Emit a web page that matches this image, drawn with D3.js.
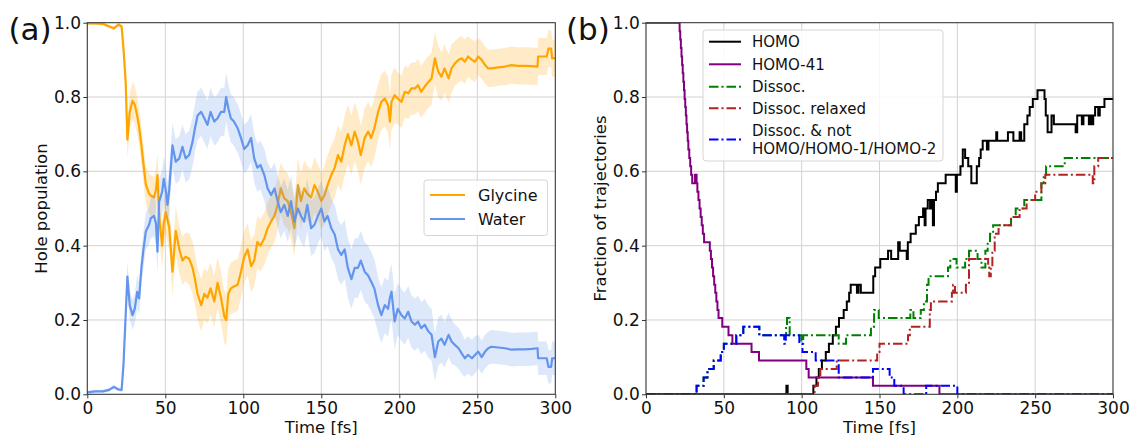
<!DOCTYPE html>
<html>
<head>
<meta charset="utf-8">
<script src="https://cdn.jsdelivr.net/npm/d3@7"></script>
<style>
  body { margin: 0; background: #fff; }
  svg text { font-family: "DejaVu Sans", sans-serif; }
</style>
</head>
<body>
<svg id="chart" width="1130" height="435"></svg>
<script>
// ---------- Panel (a): hole population on glycine vs water ----------
const timeA = [
  0, 5, 10, 14, 17, 20, 22, 23.2, 24.6, 25.7,
  27.2, 29, 30.4, 32, 33.2, 34.7, 36, 37.5, 39.6, 40.7,
  42.8, 44, 45, 46, 48, 49, 50.3, 51.4, 52.5, 54.6,
  56.7, 59, 61, 63, 65.3, 67.5, 69, 70.7, 73, 75,
  77, 79, 81.4, 83.5, 85.7, 87.8, 89, 90.4, 92, 94,
  96.4, 98.5, 100.6, 102.8, 105, 107, 109, 111, 113.5, 115.6,
  117.8, 120, 122, 124, 126.3, 128.5, 130.6, 132.8, 135, 137,
  139, 141, 143.5, 145.6, 147.8, 150,
  152, 154, 156.4, 158.6, 160.7, 162.8, 165, 167, 169.3, 171.4,
  173.5, 175.3, 177.8, 180, 182, 184, 186.4, 188.5, 190.7, 192.8,
  194, 195, 197, 199, 201.4, 203.5, 205.7, 207.8, 210, 212,
  214, 216.3, 218.5, 220.7, 222.8, 225, 227, 229, 231.6, 233.5,
  235.6, 238, 240, 242, 244, 246.6, 248.5, 250.6, 252.8, 255,
  257, 259, 263.5, 267.8, 272, 276, 280.6, 285, 288.6, 289,
  294.5, 295.6, 297.3, 298, 300
];

const glycine = [
  0.998, 0.998, 0.997, 0.99, 0.985, 0.995, 0.99, 0.93, 0.84, 0.685,
  0.76, 0.79, 0.78, 0.75, 0.72, 0.67, 0.62, 0.565, 0.54, 0.535,
  0.53, 0.55, 0.59, 0.48, 0.40, 0.46, 0.49, 0.47, 0.45, 0.33,
  0.44, 0.39, 0.36, 0.37, 0.365, 0.34, 0.31, 0.27, 0.24, 0.27,
  0.26, 0.285, 0.25, 0.30, 0.26, 0.21, 0.20, 0.27, 0.285, 0.29,
  0.295, 0.33, 0.37, 0.39, 0.345, 0.36, 0.41, 0.40, 0.42, 0.447,
  0.465, 0.48, 0.51, 0.554, 0.527, 0.52, 0.49, 0.447, 0.563, 0.52,
  0.554, 0.54, 0.53, 0.563, 0.545, 0.52,
  0.536, 0.563, 0.59, 0.61, 0.644, 0.626, 0.67, 0.70, 0.67, 0.707,
  0.68, 0.644, 0.69, 0.707, 0.69, 0.716, 0.76, 0.787, 0.796, 0.778,
  0.734, 0.787, 0.805, 0.796, 0.787, 0.814, 0.81, 0.823, 0.823, 0.832,
  0.814, 0.828, 0.84, 0.85, 0.904, 0.868, 0.855, 0.877, 0.85, 0.877,
  0.89, 0.90, 0.904, 0.895, 0.909, 0.90, 0.895, 0.909, 0.90, 0.886,
  0.877, 0.877, 0.88, 0.882, 0.886, 0.884, 0.884, 0.883, 0.882, 0.909,
  0.909, 0.93, 0.93, 0.904, 0.905
];

const glycineErr = [
  0.004, 0.004, 0.004, 0.005, 0.006, 0.005, 0.006, 0.03, 0.04, 0.05,
  0.05, 0.05, 0.05, 0.05, 0.05, 0.05, 0.05, 0.05, 0.055, 0.055,
  0.055, 0.06, 0.06, 0.06, 0.06, 0.06, 0.06, 0.06, 0.06, 0.065,
  0.065, 0.065, 0.065, 0.065, 0.07, 0.07, 0.07, 0.07, 0.07, 0.07,
  0.07, 0.07, 0.07, 0.07, 0.07, 0.07, 0.07, 0.07, 0.07, 0.07,
  0.07, 0.07, 0.07, 0.07, 0.07, 0.07, 0.07, 0.07, 0.07, 0.07,
  0.07, 0.07, 0.07, 0.07, 0.075, 0.075, 0.075, 0.075, 0.075, 0.075,
  0.075, 0.075, 0.075, 0.075, 0.075, 0.075,
  0.08, 0.08, 0.08, 0.08, 0.08, 0.08, 0.08, 0.08, 0.08, 0.08,
  0.08, 0.08, 0.08, 0.08, 0.08, 0.08, 0.075, 0.075, 0.075, 0.075,
  0.075, 0.075, 0.075, 0.07, 0.07, 0.07, 0.07, 0.07, 0.07, 0.07,
  0.07, 0.07, 0.07, 0.07, 0.07, 0.07, 0.065, 0.065, 0.065, 0.065,
  0.06, 0.06, 0.06, 0.06, 0.055, 0.055, 0.055, 0.05, 0.05, 0.05,
  0.05, 0.05, 0.05, 0.05, 0.05, 0.05, 0.05, 0.05, 0.05, 0.05,
  0.05, 0.05, 0.05, 0.05, 0.05
];

const water = [
  0.005, 0.008, 0.008, 0.012, 0.02, 0.013, 0.012, 0.08, 0.213, 0.317,
  0.24, 0.213, 0.23, 0.276, 0.258, 0.34, 0.39, 0.438, 0.456, 0.474,
  0.48, 0.46, 0.384, 0.518, 0.545, 0.58, 0.55, 0.51, 0.55, 0.67,
  0.626, 0.635, 0.666, 0.635, 0.644, 0.68, 0.716, 0.75, 0.76, 0.743,
  0.725, 0.76, 0.734, 0.743, 0.76, 0.76, 0.80, 0.77, 0.743, 0.734,
  0.716, 0.69, 0.66, 0.67, 0.69, 0.635, 0.61, 0.617, 0.59, 0.554,
  0.536, 0.554, 0.52, 0.49, 0.51, 0.48, 0.52, 0.465, 0.50, 0.48,
  0.465, 0.51, 0.447, 0.456, 0.48, 0.50,
  0.465, 0.48, 0.447, 0.43, 0.39, 0.375, 0.39, 0.34, 0.31, 0.34,
  0.34, 0.36, 0.33, 0.32, 0.303, 0.285, 0.24, 0.213, 0.24, 0.23,
  0.26, 0.276, 0.196, 0.23, 0.213, 0.204, 0.222, 0.196, 0.187, 0.196,
  0.178, 0.187, 0.17, 0.16, 0.10, 0.142, 0.15, 0.133, 0.16, 0.142,
  0.133, 0.124, 0.11, 0.097, 0.106, 0.097, 0.106, 0.115, 0.10, 0.115,
  0.124, 0.128, 0.126, 0.124, 0.12, 0.121, 0.121, 0.122, 0.124, 0.097,
  0.097, 0.074, 0.074, 0.097, 0.097
];

const waterErr = [
  0.004, 0.004, 0.004, 0.005, 0.006, 0.005, 0.006, 0.03, 0.035, 0.04,
  0.04, 0.04, 0.04, 0.045, 0.045, 0.045, 0.05, 0.05, 0.05, 0.055,
  0.055, 0.055, 0.06, 0.06, 0.06, 0.06, 0.06, 0.06, 0.06, 0.06,
  0.06, 0.06, 0.06, 0.065, 0.065, 0.065, 0.065, 0.065, 0.065, 0.065,
  0.065, 0.065, 0.065, 0.065, 0.065, 0.065, 0.065, 0.065, 0.065, 0.065,
  0.065, 0.065, 0.065, 0.065, 0.065, 0.065, 0.065, 0.065, 0.07, 0.07,
  0.07, 0.07, 0.07, 0.07, 0.07, 0.07, 0.07, 0.07, 0.07, 0.07,
  0.07, 0.07, 0.075, 0.075, 0.075, 0.075,
  0.08, 0.08, 0.08, 0.08, 0.08, 0.08, 0.08, 0.08, 0.08, 0.08,
  0.08, 0.08, 0.08, 0.08, 0.08, 0.08, 0.075, 0.075, 0.075, 0.075,
  0.075, 0.075, 0.075, 0.07, 0.07, 0.07, 0.07, 0.07, 0.07, 0.07,
  0.07, 0.07, 0.07, 0.07, 0.065, 0.065, 0.065, 0.06, 0.06, 0.06,
  0.055, 0.055, 0.055, 0.05, 0.05, 0.05, 0.05, 0.045, 0.045, 0.045,
  0.045, 0.045, 0.045, 0.045, 0.045, 0.045, 0.045, 0.045, 0.045, 0.045,
  0.045, 0.045, 0.045, 0.045, 0.045
];

// ---------- Panel (b): fraction of trajectories, [time, fraction] step points ----------
const homo = [
  [0, 0], [90.2, 0.023], [91.0, 0], [107.5, 0.023], [109.5, 0.045], [111, 0.068],
  [113, 0.091], [115.5, 0.114], [117.5, 0.136], [120, 0.159], [122, 0.182],
  [124, 0.205], [127, 0.227], [129, 0.25], [130.5, 0.273], [131.5, 0.295],
  [135.5, 0.273], [136.5, 0.295], [138, 0.273], [146, 0.318], [147.2, 0.341],
  [150.5, 0.364], [155.5, 0.386], [157.5, 0.364], [162, 0.409], [163, 0.386],
  [167.5, 0.364], [168.2, 0.409], [170, 0.432], [173.3, 0.455], [175.3, 0.477],
  [178, 0.5], [179, 0.455], [179.6, 0.5], [181, 0.523], [182.5, 0.5],
  [183.2, 0.523], [184.3, 0.455], [185, 0.523], [186.3, 0.545], [187.5, 0.568],
  [192.5, 0.591], [199, 0.545], [199.7, 0.591], [202, 0.614], [203.5, 0.659],
  [205, 0.636], [207, 0.614], [209, 0.568], [212.5, 0.614], [214, 0.636],
  [215, 0.659], [216.3, 0.682], [219, 0.659], [220, 0.682], [225, 0.705],
  [225.6, 0.682], [232.5, 0.705], [236, 0.682], [240, 0.705], [241, 0.682],
  [243, 0.727], [245, 0.75], [246.5, 0.773], [248.5, 0.795], [251.5, 0.818],
  [256, 0.795], [256.8, 0.75], [258, 0.705], [260.5, 0.75], [262, 0.727],
  [276, 0.705], [277, 0.75], [280, 0.727], [281, 0.75], [284.5, 0.727],
  [285.2, 0.75], [286.5, 0.727], [287.3, 0.75], [288.5, 0.773], [290.5, 0.75],
  [291.5, 0.773], [294.5, 0.795], [300, 0.795]
];

const homo41 = [
  [0, 1.0], [21.6, 0.977], [22.0, 0.955], [22.4, 0.932], [22.8, 0.909],
  [23.2, 0.886], [23.6, 0.864], [24.0, 0.841], [24.4, 0.818], [24.8, 0.795],
  [25.2, 0.773], [25.6, 0.75], [26.0, 0.727], [26.4, 0.705], [26.8, 0.682],
  [27.2, 0.659], [27.8, 0.636], [28.4, 0.614], [29.0, 0.591], [29.7, 0.568],
  [31.5, 0.591], [32.5, 0.568], [33.0, 0.545], [33.7, 0.523], [34.4, 0.5],
  [35.1, 0.477], [35.8, 0.455], [36.5, 0.432], [37.3, 0.409], [41.0, 0.386],
  [41.7, 0.364], [42.4, 0.341], [43.1, 0.318], [43.8, 0.295], [44.5, 0.273],
  [45.2, 0.25], [45.9, 0.227], [46.6, 0.205], [49.0, 0.182], [53.0, 0.159],
  [55.5, 0.136], [67.8, 0.114], [72.6, 0.091], [103.0, 0.068], [104.5, 0.045],
  [145.8, 0.023], [188.5, 0], [300, 0]
];

const dissoc = [
  [0, 0], [32.5, 0.023], [37, 0.045], [39.5, 0.068], [43.5, 0.091], [48, 0.114],
  [50, 0.136], [58, 0.159], [62.5, 0.182], [72.8, 0.159], [90, 0.182],
  [90.6, 0.205], [92.3, 0.159], [99.8, 0.136], [101, 0.159], [123.8, 0.136],
  [128.5, 0.159], [144.5, 0.182], [146.5, 0.227], [149.5, 0.205], [169.8, 0.227],
  [171.8, 0.205], [176.5, 0.227], [178.5, 0.25], [180.5, 0.295], [181.5, 0.318],
  [194, 0.341], [195.5, 0.364], [199.5, 0.341], [205, 0.364], [207.5, 0.386],
  [213, 0.364], [215.5, 0.341], [218, 0.386], [219.5, 0.409], [221, 0.432],
  [223, 0.455], [234.5, 0.477], [237.5, 0.5], [243, 0.523], [254, 0.568],
  [255.5, 0.591], [257, 0.614], [269, 0.636], [300, 0.636]
];

const dissocRelaxed = [
  [0, 0], [108.3, 0.023], [110.5, 0.045], [112, 0.068], [122.5, 0.091],
  [148.5, 0.114], [150, 0.136], [168.3, 0.159], [169.5, 0.182], [182.3, 0.227],
  [183, 0.25], [196.5, 0.273], [197.3, 0.295], [198.5, 0.273], [205.5, 0.295],
  [207.5, 0.364], [219.8, 0.341], [220.5, 0.318], [221.5, 0.341], [222.5, 0.386],
  [224, 0.432], [226.5, 0.455], [234.5, 0.477], [240, 0.5], [244.5, 0.523],
  [250, 0.545], [254, 0.568], [256.5, 0.591], [287, 0.568], [288, 0.614],
  [290.5, 0.636], [300, 0.636]
];

const dissocNotTop = [
  [0, 0], [32.5, 0.023], [37, 0.045], [39.5, 0.068], [43.5, 0.091], [48, 0.114],
  [50, 0.136], [58, 0.159], [62.5, 0.182], [72.8, 0.159], [88.8, 0.136],
  [89.8, 0.159], [98.5, 0.136], [100.5, 0.114], [109, 0.091], [123.8, 0.045],
  [145.8, 0.068], [156.5, 0.045], [159.5, 0.023], [165.5, 0], [180, 0.023],
  [200, 0], [300, 0]
];

const xTicks = [0, 50, 100, 150, 200, 250, 300];
const yTicks = [0, 0.2, 0.4, 0.6, 0.8, 1.0];

// ---------- drawing ----------
const svg = d3.select("#chart");
const FONT = "DejaVu Sans, sans-serif";

function makePanel(box, clipId) {
  const x = d3.scaleLinear().domain([0, 300]).range([box.left, box.right]);
  const y = d3.scaleLinear().domain([0, 1]).range([box.bottom, box.top]);
  const g = svg.append("g");
  g.append("g").selectAll("line").data(xTicks).join("line")
    .attr("x1", d => x(d)).attr("x2", d => x(d))
    .attr("y1", box.top).attr("y2", box.bottom)
    .attr("stroke", "#d2d2d2").attr("stroke-width", 1);
  g.append("g").selectAll("line").data(yTicks).join("line")
    .attr("x1", box.left).attr("x2", box.right)
    .attr("y1", d => y(d)).attr("y2", d => y(d))
    .attr("stroke", "#d2d2d2").attr("stroke-width", 1);
  svg.append("clipPath").attr("id", clipId).append("rect")
    .attr("x", box.left).attr("y", box.top)
    .attr("width", box.right - box.left).attr("height", box.bottom - box.top);
  const plot = svg.append("g").attr("clip-path", `url(#${clipId})`);
  return { x, y, plot, box };
}

function finishPanel(p, yLabel, yLabelX, tag, tagX) {
  const { x, y, box } = p;
  svg.append("rect")
    .attr("x", box.left).attr("y", box.top)
    .attr("width", box.right - box.left).attr("height", box.bottom - box.top)
    .attr("fill", "none").attr("stroke", "#333").attr("stroke-width", 1);

  const ax = svg.append("g").attr("transform", `translate(0,${box.bottom})`)
    .call(d3.axisBottom(x).tickValues(xTicks).tickSize(4).tickPadding(3.6).tickFormat(d3.format("d")));
  const ay = svg.append("g").attr("transform", `translate(${box.left},0)`)
    .call(d3.axisLeft(y).tickValues(yTicks).tickSize(4).tickPadding(2.3).tickFormat(d3.format(".1f")));
  [ax, ay].forEach(a => {
    a.select(".domain").remove();
    a.attr("font-family", FONT).attr("font-size", 17);
    a.selectAll("line").attr("stroke", "#333");
    a.selectAll("text").attr("fill", "#111");
  });

  svg.append("text").attr("x", (box.left + box.right) / 2).attr("y", 432.5)
    .attr("text-anchor", "middle").attr("font-size", 16.5).attr("fill", "#111")
    .text("Time [fs]");
  svg.append("text")
    .attr("transform", `translate(${yLabelX},${(box.top + box.bottom) / 2}) rotate(-90)`)
    .attr("text-anchor", "middle").attr("font-size", 16.5).attr("fill", "#111")
    .text(yLabel);
  svg.append("text").attr("x", tagX).attr("y", 39.5)
    .attr("font-size", 31).attr("fill", "#111").text(tag);
}

// Panel (a)
const pA = makePanel({ left: 87.3, right: 555.3, top: 22.7, bottom: 394.3 }, "clipA");
const rowsA = timeA.map((t, i) => ({ t, g: glycine[i], ge: glycineErr[i], w: water[i], we: waterErr[i] }));

const series = [
  { key: "g", err: "ge", color: "#ffa500" },
  { key: "w", err: "we", color: "#6495ed" }
];
series.forEach(s => {
  pA.plot.append("path").datum(rowsA)
    .attr("fill", s.color).attr("fill-opacity", 0.22)
    .attr("d", d3.area().x(d => pA.x(d.t))
      .y0(d => pA.y(d[s.key] - d[s.err])).y1(d => pA.y(d[s.key] + d[s.err])));
  pA.plot.append("path").datum(rowsA)
    .attr("fill", "none").attr("stroke", s.color).attr("stroke-width", 2.2)
    .attr("stroke-linejoin", "round")
    .attr("d", d3.line().x(d => pA.x(d.t)).y(d => pA.y(d[s.key])));
});
finishPanel(pA, "Hole population", 47, "(a)", 8.5);

// legend (a)
const legA = svg.append("g");
legA.append("rect").attr("x", 424).attr("y", 180).attr("width", 123.5).attr("height", 55.5)
  .attr("rx", 3).attr("fill", "#fff").attr("fill-opacity", 0.85)
  .attr("stroke", "#d6d6d6").attr("stroke-width", 1);
[["Glycine", "#ffa500", 195], ["Water", "#6495ed", 219]].forEach(([name, c, cy]) => {
  legA.append("line").attr("x1", 430).attr("x2", 465).attr("y1", cy).attr("y2", cy)
    .attr("stroke", c).attr("stroke-width", 2.2);
  legA.append("text").attr("x", 478).attr("y", cy + 5.8).attr("font-size", 16)
    .attr("fill", "#111").text(name);
});

// Panel (b)
const pB = makePanel({ left: 646, right: 1113, top: 22.7, bottom: 394.3 }, "clipB");
const DASHDOT = "9.5,3,2,3";
const linesB = [
  { data: homo, color: "#000000", dash: null, name: ["HOMO"] },
  { data: homo41, color: "#800080", dash: null, name: ["HOMO-41"] },
  { data: dissoc, color: "#008000", dash: DASHDOT, name: ["Dissoc."] },
  { data: dissocRelaxed, color: "#b22222", dash: DASHDOT, name: ["Dissoc. relaxed"] },
  { data: dissocNotTop, color: "#0000ff", dash: DASHDOT, name: ["Dissoc. & not", "HOMO/HOMO-1/HOMO-2"] }
];
const stepLine = d3.line().x(d => pB.x(d[0])).y(d => pB.y(d[1])).curve(d3.curveStepAfter);
linesB.forEach(s => {
  pB.plot.append("path").datum(s.data)
    .attr("fill", "none").attr("stroke", s.color).attr("stroke-width", 2)
    .attr("stroke-dasharray", s.dash)
    .attr("d", stepLine);
});
finishPanel(pB, "Fraction of trajectories", 606, "(b)", 566);

// legend (b)
const legB = svg.append("g");
legB.append("rect").attr("x", 703).attr("y", 30).attr("width", 240).attr("height", 131)
  .attr("rx", 3).attr("fill", "#fff").attr("fill-opacity", 0.85)
  .attr("stroke", "#d6d6d6").attr("stroke-width", 1);
const legRows = [41.7, 64.3, 86.7, 108.3, 139.5];
linesB.forEach((s, i) => {
  const cy = legRows[i];
  legB.append("line").attr("x1", 709).attr("x2", 741).attr("y1", cy).attr("y2", cy)
    .attr("stroke", s.color).attr("stroke-width", 2).attr("stroke-dasharray", s.dash);
  if (s.name.length === 1) {
    legB.append("text").attr("x", 752).attr("y", cy + 5.4).attr("font-size", 15)
      .attr("fill", "#111").text(s.name[0]);
  } else {
    s.name.forEach((line, j) => {
      legB.append("text").attr("x", 752).attr("y", cy - 4 + j * 18.3).attr("font-size", 15)
        .attr("fill", "#111").text(line);
    });
  }
});
</script>
</body>
</html>
